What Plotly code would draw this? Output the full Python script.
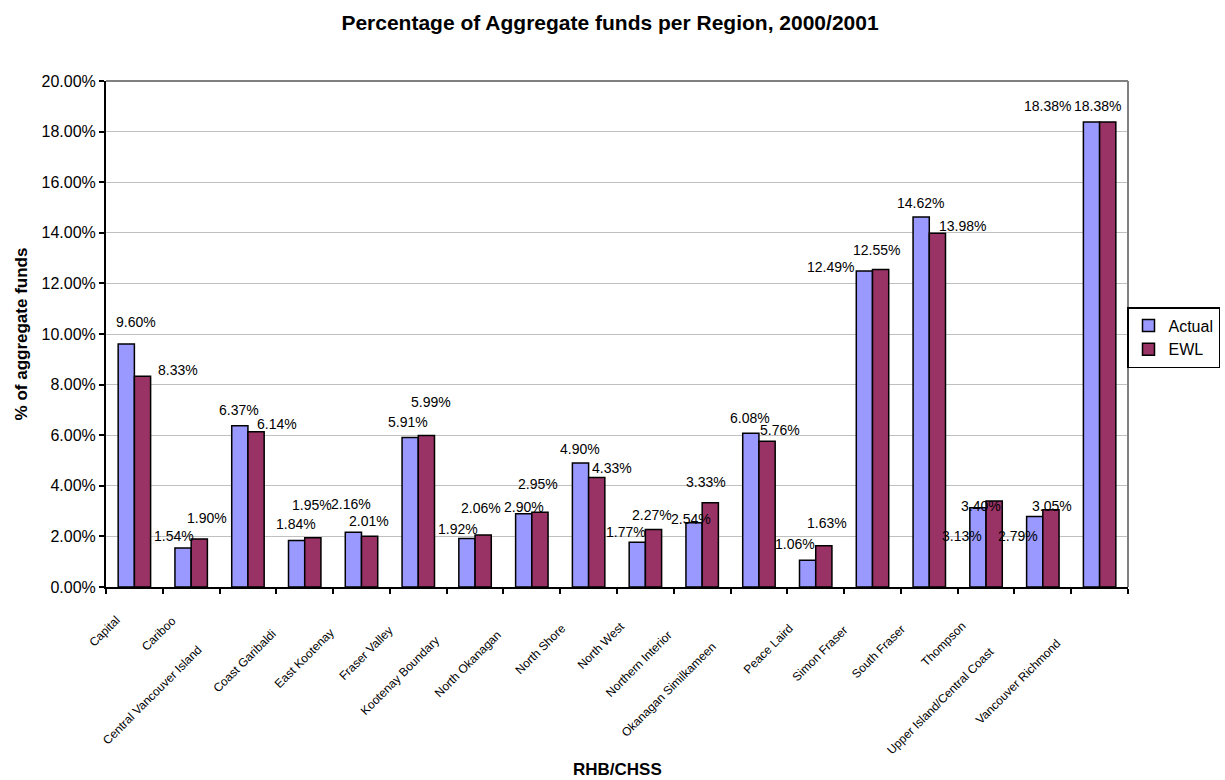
import plotly.graph_objects as go

# Regions (RHB/CHSS) and share of aggregate funds, in percent
regions = [
    "Capital", "Cariboo", "Central Vancouver Island", "Coast Garibaldi",
    "East Kootenay", "Fraser Valley", "Kootenay Boundary", "North Okanagan",
    "North Shore", "North West", "Northern Interior", "Okanagan Similkameen",
    "Peace Laird", "Simon Fraser", "South Fraser", "Thompson",
    "Upper Island/Central Coast", "Vancouver Richmond",
]
actual = [9.60, 1.54, 6.37, 1.84, 2.16, 5.91, 1.92, 2.90, 4.90, 1.77,
          2.54, 6.08, 1.06, 12.49, 14.62, 3.13, 2.79, 18.38]
ewl = [8.33, 1.90, 6.14, 1.95, 2.01, 5.99, 2.06, 2.95, 4.33, 2.27,
       3.33, 5.76, 1.63, 12.55, 13.98, 3.40, 3.05, 18.38]
y_ticks = [0, 2, 4, 6, 8, 10, 12, 14, 16, 18, 20]

# Pixel nudges for the value labels (dx right, dy up from the bar top)
actual_label_dx = [10, -9, -1, -1, -2, -2, -9, 0, -1, -11, -3, -1, -13, -34, -1, -16, -17, -44]
actual_label_dy = [22, 12, 16, 16, 28, 15, 9, 7, 14, 10, 4, 15, 16, 4, 14, -28, -20, 16]
ewl_label_dx = [35, 8, 21, -1, -1, 5, -2, -2, 15, -2, -4, 13, 3, -4, 25, -13, 1, -10]
ewl_label_dy = [6, 21, 8, 33, 15, 33, 27, 28, 9, 15, 21, 11, 23, 19, 7, -5, 4, 16]

FONT = "Liberation Sans, Arial, sans-serif"
BARGAP = 0.75 / 1.75
HALF = (1 - BARGAP) / 4  # offset of each bar centre from its category centre

# Approximate Arial advance widths (per 1000 em) for placing rotated labels
ARIAL_W = {
    " ": 278, "/": 278, "a": 556, "b": 556, "c": 500, "d": 556, "e": 556,
    "f": 278, "g": 556, "h": 556, "i": 222, "k": 500, "l": 222, "m": 833,
    "n": 556, "o": 556, "p": 556, "r": 333, "s": 500, "t": 278, "u": 556,
    "v": 500, "w": 722, "y": 500, "B": 667, "C": 722, "E": 667, "F": 611,
    "G": 778, "I": 278, "K": 667, "L": 556, "N": 722, "O": 778, "P": 667,
    "R": 722, "S": 667, "T": 611, "U": 722, "V": 667, "W": 944,
}


def text_px(s, size):
    return sum(ARIAL_W.get(ch, 556) for ch in s) * size / 1000.0


xs = list(range(len(regions)))

fig = go.Figure()
fig.add_trace(go.Bar(
    x=xs, y=actual, name="Actual",
    marker=dict(color="#9999FF", line=dict(color="black", width=1.5)),
))
fig.add_trace(go.Bar(
    x=xs, y=ewl, name="EWL",
    marker=dict(color="#993366", line=dict(color="black", width=1.5)),
))

annotations = []
# value labels above the bars
for i in xs:
    annotations.append(dict(
        x=i - HALF, y=actual[i], xref="x", yref="y", text=f"{actual[i]:.2f}%",
        showarrow=False, xanchor="center", yanchor="middle",
        xshift=actual_label_dx[i], yshift=actual_label_dy[i],
        font=dict(family=FONT, size=14, color="black"),
    ))
    annotations.append(dict(
        x=i + HALF, y=ewl[i], xref="x", yref="y", text=f"{ewl[i]:.2f}%",
        showarrow=False, xanchor="center", yanchor="middle",
        xshift=ewl_label_dx[i], yshift=ewl_label_dy[i],
        font=dict(family=FONT, size=14, color="black"),
    ))

# rotated category labels
CAT_SIZE = 12
for i, name in enumerate(regions):
    L = text_px(name, CAT_SIZE)
    annotations.append(dict(
        x=i, y=0, xref="x", yref="y", text=name, textangle=-45,
        showarrow=False, xanchor="center", yanchor="middle",
        xshift=-(4 + 0.68 * L), yshift=-(20 + 0.65 * L),
        font=dict(family=FONT, size=CAT_SIZE, color="black"),
    ))

# x axis title
annotations.append(dict(
    x=0.5, y=-(769 - 587) / 506, xref="paper", yref="paper",
    text="<b>RHB/CHSS</b>", showarrow=False, xanchor="center", yanchor="middle",
    font=dict(family=FONT, size=17, color="black"),
))
fig.update_layout(annotations=annotations)

fig.update_layout(
    width=1225, height=780,
    margin=dict(l=106, r=97, t=81, b=193, autoexpand=False),
    paper_bgcolor="white", plot_bgcolor="white",
    barmode="group", bargap=BARGAP, bargroupgap=0,
    title=dict(
        text="<b>Percentage of Aggregate funds per Region, 2000/2001</b>",
        x=(610 / 1225), xanchor="center", y=1 - 23 / 780, yanchor="middle",
        font=dict(family=FONT, size=21, color="black"),
    ),
    font=dict(family=FONT, color="black"),
    showlegend=True,
    legend=dict(
        x=(1127 - 106) / 1022, y=(587 - 307) / 506,
        xanchor="left", yanchor="top",
        bgcolor="white", bordercolor="black", borderwidth=1.5,
        font=dict(family=FONT, size=16, color="black"),
        itemwidth=30, tracegroupgap=4,
    ),
    xaxis=dict(
        range=[-0.5, len(regions) - 0.5],
        tickmode="array", tickvals=[k - 0.5 for k in range(len(regions) + 1)],
        showticklabels=False, ticks="outside", ticklen=5, tickwidth=1.5,
        tickcolor="black", showline=True, linecolor="black", linewidth=2,
        showgrid=False, zeroline=False, fixedrange=True,
    ),
    yaxis=dict(
        range=[0, 20], tickmode="array", tickvals=y_ticks,
        ticktext=[f"{v:.2f}%" for v in y_ticks],
        ticks="outside", ticklen=5, tickwidth=1.5, tickcolor="black",
        showline=True, linecolor="black", linewidth=2,
        showgrid=True, gridcolor="#c0c0c0", gridwidth=1, zeroline=False,
        tickfont=dict(family=FONT, size=16, color="black"),
        title=dict(text="<b>% of aggregate funds</b>", standoff=10,
                   font=dict(family=FONT, size=17, color="black")),
    ),
    shapes=[
        dict(type="line", xref="paper", yref="paper", x0=0, x1=1, y0=1, y1=1,
             line=dict(color="#808080", width=2), layer="above"),
        dict(type="line", xref="paper", yref="paper", x0=1, x1=1, y0=0, y1=1,
             line=dict(color="#808080", width=2), layer="above"),
    ],
)

fig.write_html("out.html")
